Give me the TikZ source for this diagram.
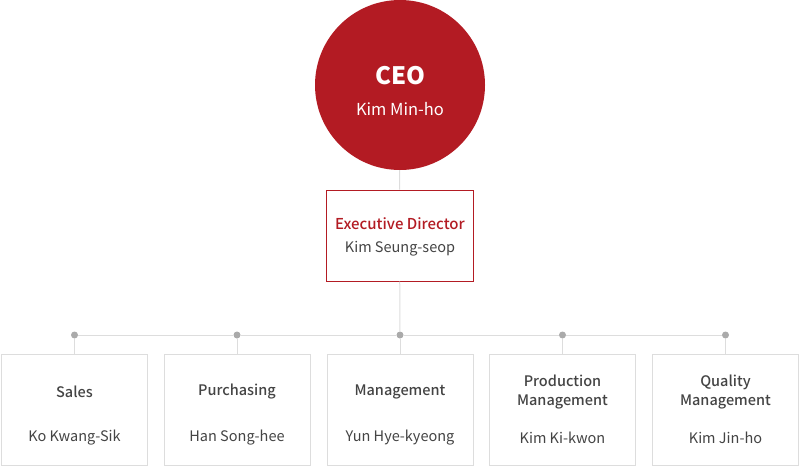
\documentclass[tikz,border=0pt]{standalone}
\usepackage{fontspec}
\setmainfont{Noto Sans CJK KR}[BoldFont={* Medium}]
\newfontfamily\ceofont{Noto Sans CJK KR}
\usepackage{tikz}
\usetikzlibrary{calc}
\definecolor{ceored}{HTML}{B31B23}
\definecolor{linegray}{HTML}{DDDDDD}
\definecolor{dotgray}{HTML}{AAAAAA}
\definecolor{textgray}{HTML}{444444}
\tikzset{
  link/.style={draw=linegray,line width=1pt},
  dept/.style={draw=linegray,line width=1pt,fill=white,minimum width=146pt,minimum height=111pt},
  dot/.style={circle,fill=dotgray,inner sep=0pt,minimum size=7pt},
  depttitle/.style={font=\fontsize{14.5}{19}\selectfont\bfseries,text=textgray,align=center},
  deptname/.style={font=\fontsize{14.5}{18}\selectfont,text=textgray},
}

\begin{document}
\begin{tikzpicture}[x=1pt,y=-1pt]
  \useasboundingbox (0,0) rectangle (800,466);
  % ceo circle
  \node[circle,fill=ceored,minimum size=170pt,inner sep=0pt] (ceo) at (400,85) {};
  \node[text=white,font=\fontsize{24}{28}\ceofont\bfseries] (ceotitle) at (400,76) {CEO};
  \node[text=white,font=\fontsize{16.5}{20}\selectfont] (ceoname) at (400,109) {Kim Min-ho};
  % executive director
  \node[draw=ceored,line width=1pt,fill=white,minimum width=147pt,minimum height=91pt] (exec) at (399.5,235.5) {};
  \node[text=ceored,font=\fontsize{15}{18}\selectfont\bfseries] (exectitle) at (400,224) {Executive Director};
  \node[text=textgray,font=\fontsize{14.5}{18}\selectfont] (execname) at (400,249) {Kim Seung-seop};
  \draw[link] (ceo) -- (exec);
  % departments
  \foreach \i/\x/\t/\n in {1/74.5/Sales/Ko Kwang-Sik,
                           2/237/Purchasing/Han Song-hee,
                           3/400/Management/Yun Hye-kyeong,
                           4/562.5/Production\\Management/Kim Ki-kwon,
                           5/725.5/Quality\\Management/Kim Jin-ho} {
    \node[dept] (b\i) at (\x,409.5) {};
    \node[dot] (d\i) at (\x,335) {};
    \draw[link] (d\i) -- (b\i.north);
    \node[depttitle] (t\i) at (\x,392) {\t};
    \node[deptname] (n\i) at (\x,438) {\n};
  }
  \draw[link] (exec) -- (d3);
  \draw[link] (d1) -- (d2) -- (d3) -- (d4) -- (d5);
\end{tikzpicture}
\end{document}
